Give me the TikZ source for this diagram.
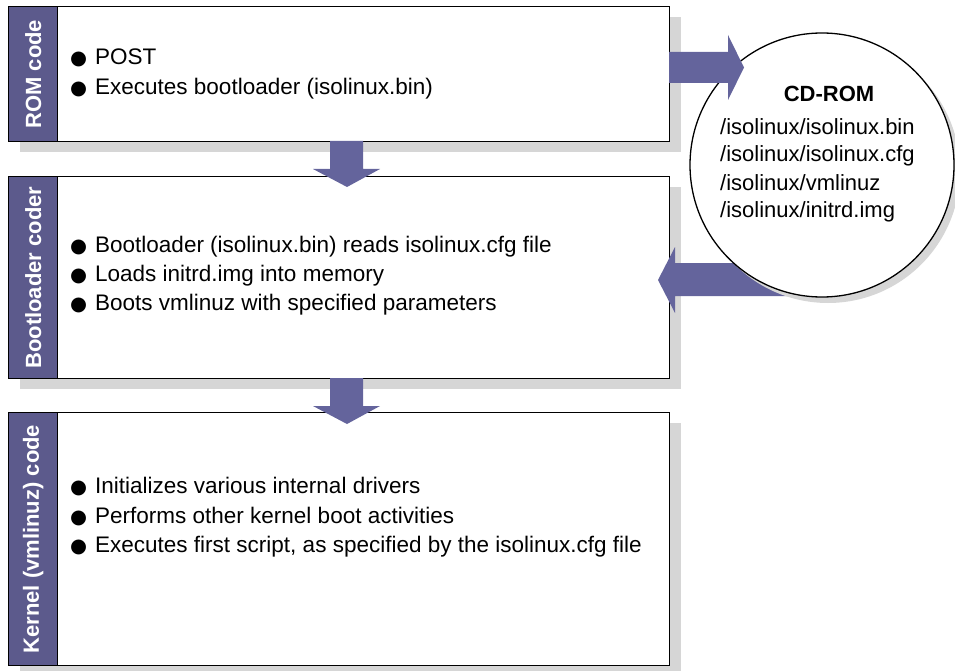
\documentclass[tikz,border=0pt]{standalone}
\usepackage{fontspec}
\setmainfont{Liberation Sans}
\newfontfamily\symfont{DejaVu Sans}
\usetikzlibrary{positioning,calc,shadows}
\definecolor{barpurple}{RGB}{92,90,140}
\definecolor{arrowpurple}{RGB}{100,100,156}
\definecolor{shadowgray}{RGB}{214,214,214}
\newcommand{\dotitem}{\makebox[25pt][l]{{\symfont\fontsize{19.5}{19.5}\selectfont ●}}}
\tikzstyle{stagebox}=[draw, line width=1.3pt, fill=white, rectangle, anchor=north west, inner sep=0pt, minimum width=661pt, drop shadow={shadow xshift=11pt, shadow yshift=-10pt, fill=shadowgray, opacity=1}]
\tikzstyle{sidebar}=[draw, line width=1.3pt, fill=barpurple, rectangle, anchor=north west, inner sep=0pt, minimum width=49pt]
\tikzstyle{sidelabel}=[text=white, font=\fontsize{22}{22}\selectfont\bfseries, rotate=90]
\tikzstyle{itemline}=[anchor=base west, inner sep=0pt, font=\fontsize{22.5}{22.5}\selectfont]
\tikzstyle{cdline}=[anchor=base west, inner sep=0pt, font=\fontsize{22}{22}\selectfont]
\tikzstyle{blockarrow}=[fill=arrowpurple, draw=none]

\begin{document}
\begin{tikzpicture}[x=1pt, y=-1pt]
\useasboundingbox (0,0) rectangle (955,671);

% stages
\node[stagebox, minimum height=135pt] (rom) at (8,6) {};
\node[sidebar, minimum height=135pt] (rombar) at (8,6) {};
\node[sidelabel] (romlabel) at (rombar.center) {ROM code};
\node[itemline] (post) at (70,65) {\dotitem POST};
\node[itemline] (execboot) at (70,95) {\dotitem Executes bootloader (isolinux.bin)};

\node[stagebox, minimum height=202pt] (boot) at (8,176) {};
\node[sidebar, minimum height=202pt] (bootbar) at (8,176) {};
\node[sidelabel] (bootlabel) at (bootbar.center) {Bootloader coder};
\node[itemline] (readcfg) at (70,252) {\dotitem Bootloader (isolinux.bin) reads isolinux.cfg file};
\node[itemline] (loadinitrd) at (70,281) {\dotitem Loads initrd.img into memory};
\node[itemline] (bootvm) at (70,310) {\dotitem Boots vmlinuz with specified parameters};

\node[stagebox, minimum height=253pt] (kernel) at (8,412) {};
\node[sidebar, minimum height=253pt] (kernelbar) at (8,412) {};
\node[sidelabel] (kernellabel) at (kernelbar.center) {Kernel (vmlinuz) code};
\node[itemline] (initdrv) at (70,493) {\dotitem Initializes various internal drivers};
\node[itemline] (otherboot) at (70,523) {\dotitem Performs other kernel boot activities};
\node[itemline] (firstscript) at (70,552) {\dotitem Executes first script, as specified by the isolinux.cfg file};

% down arrows
\fill[blockarrow] (330,141) -- (363,141) -- (363,169) -- (380,169) -- (347,187) -- (313,169) -- (330,169) -- cycle;
\fill[blockarrow] (330,378) -- (363,378) -- (363,406) -- (380,406) -- (347,424) -- (313,406) -- (330,406) -- cycle;

% back from the cd
\fill[blockarrow] (800,263) -- (675,263) -- (675,247) -- (658,280) -- (675,313) -- (675,296) -- (800,296) -- cycle;

\node[circle, draw, line width=1.3pt, fill=white, minimum size=264pt, inner sep=0pt, drop shadow={shadow xshift=6pt, shadow yshift=-6pt, fill=shadowgray, opacity=1}] (cdrom) at (822,165) {};
\node[anchor=base, inner sep=0pt, font=\fontsize{22}{22}\selectfont\bfseries] (cdtitle) at (829,102) {CD-ROM};
\node[cdline] (isobin) at (720,135) {/isolinux/isolinux.bin};
\node[cdline] (isocfg) at (720,162) {/isolinux/isolinux.cfg};
\node[cdline] (isovm) at (720,190) {/isolinux/vmlinuz};
\node[cdline] (isoinitrd) at (720,218) {/isolinux/initrd.img};

% out to the cd
\fill[blockarrow] (669,52) -- (728,52) -- (728,35) -- (744,67.5) -- (728,100) -- (728,83) -- (669,83) -- cycle;
\end{tikzpicture}
\end{document}
